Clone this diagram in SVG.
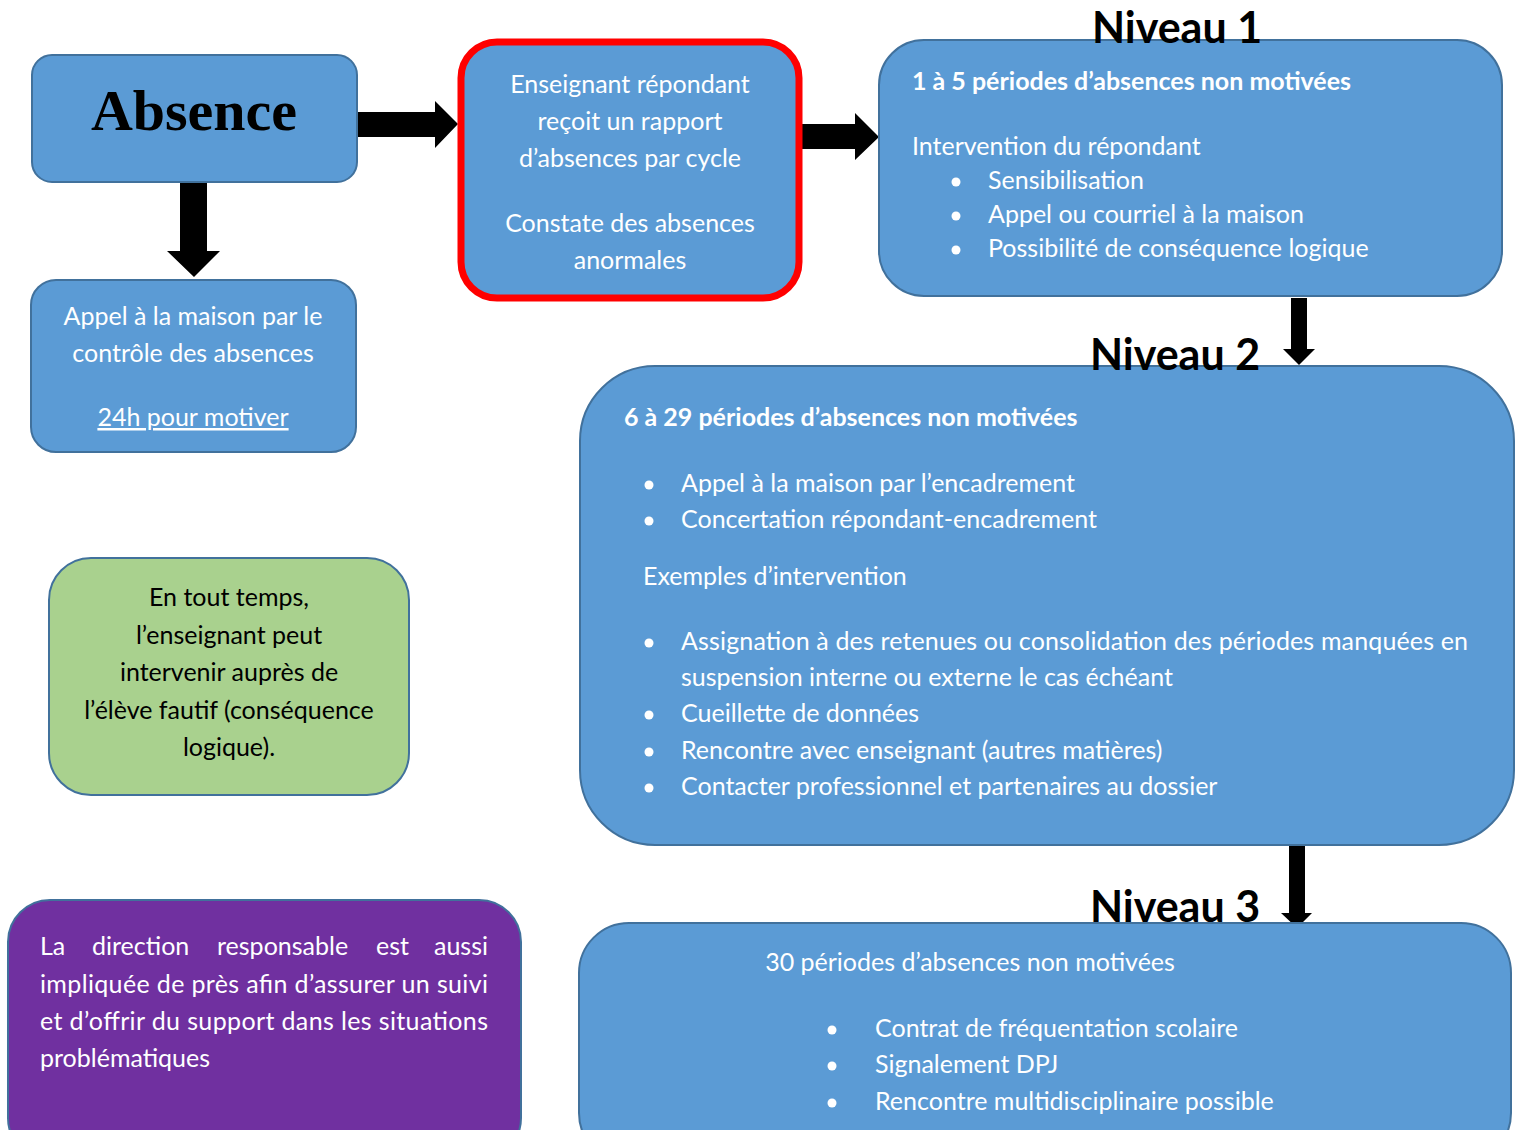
<svg xmlns="http://www.w3.org/2000/svg" width="1522" height="1130" viewBox="0 0 1522 1130">
<style>
.box{fill:#5B9BD5;stroke:#41719C;stroke-width:2}
.t{font-family:Lato,"Open Sans","Liberation Sans",sans-serif;font-size:25px;fill:#fff}
.c{text-anchor:middle}
.b{font-weight:bold}
.k{fill:#000}
.niv{font-family:Lato,"Open Sans","Liberation Sans",sans-serif;font-size:43px;font-weight:bold;fill:#000;text-anchor:middle}
.arr{fill:#000}
.dot{fill:#fff}
</style>
<rect width="1522" height="1130" fill="#fff"/>
<g id="connectors">
<polygon class="arr" points="357,112 435,112 435,101 458,124 435,148 435,137 357,137"/>
<polygon class="arr" points="180,182 207,182 207,251 220,251 194,277 167,251 180,251"/>
<polygon class="arr" points="802,124 855,124 855,113 879,137 855,160 855,149 802,149"/>
<polygon class="arr" points="1291,298 1307,298 1307,349 1315,349 1299,365 1283,349 1291,349"/>
<polygon class="arr" points="1289,845 1305,845 1305,913 1312,913 1297,928 1281,913 1289,913"/>
</g>
<g id="absence">
<rect class="box" x="32" y="55" width="325" height="127" rx="20"/>
<text x="194" y="130" text-anchor="middle" font-family="'Liberation Serif',serif" font-weight="bold" font-size="58" fill="#000">Absence</text>
</g>
<g id="enseignant">
<rect x="461" y="42" width="338" height="256" rx="36" fill="#5B9BD5" stroke="#FF0000" stroke-width="7"/>
<text class="t c" x="630" y="93">Enseignant répondant</text>
<text class="t c" x="630" y="130">reçoit un rapport</text>
<text class="t c" x="630" y="167">d’absences par cycle</text>
<text class="t c" x="630" y="232">Constate des absences</text>
<text class="t c" x="630" y="269">anormales</text>
</g>
<g id="appel">
<rect class="box" x="31" y="280" width="325" height="172" rx="25"/>
<text class="t c" x="193" y="325">Appel à la maison par le</text>
<text class="t c" x="193" y="362">contrôle des absences</text>
<text class="t c" x="193" y="426" text-decoration="underline">24h pour motiver</text>
</g>
<g id="tout-temps">
<rect x="49" y="558" width="360" height="237" rx="42" fill="#A9D18E" stroke="#41719C" stroke-width="2"/>
<text class="t c k" x="229" y="606">En tout temps,</text>
<text class="t c k" x="229" y="644">l’enseignant peut</text>
<text class="t c k" x="229" y="681">intervenir auprès de</text>
<text class="t c k" x="229" y="719">l’élève fautif (conséquence</text>
<text class="t c k" x="229" y="756">logique).</text>
</g>
<g id="direction">
<rect x="8" y="900" width="513" height="260" rx="42" fill="#7030A0" stroke="#41719C" stroke-width="2"/>
<text class="t" y="955"><tspan x="40">La</tspan><tspan x="92">direction</tspan><tspan x="217">responsable</tspan><tspan x="376">est</tspan></text>
<text class="t" x="488" y="955" text-anchor="end">aussi</text>
<text class="t" x="40" y="993" textLength="448" lengthAdjust="spacing">impliquée de près afin d’assurer un suivi</text>
<text class="t" x="40" y="1030" textLength="448" lengthAdjust="spacing">et d’offrir du support dans les situations</text>
<text class="t" x="40" y="1067">problématiques</text>
</g>
<g id="niveau1">
<rect class="box" x="879" y="40" width="623" height="256" rx="45"/>
<text class="niv" x="1177" y="43">Niveau 1</text>
<text class="t b" x="912" y="90">1 à 5 périodes d’absences non motivées</text>
<text class="t" x="912" y="155">Intervention du répondant</text>
<circle class="dot" cx="956" cy="182" r="4.5"/>
<circle class="dot" cx="956" cy="216" r="4.5"/>
<circle class="dot" cx="956" cy="250" r="4.5"/>
<text class="t" x="988" y="189">Sensibilisation</text>
<text class="t" x="988" y="223">Appel ou courriel à la maison</text>
<text class="t" x="988" y="257">Possibilité de conséquence logique</text>
</g>
<g id="niveau2">
<rect class="box" x="580" y="366" width="934" height="479" rx="75"/>
<text class="niv" x="1175" y="370">Niveau 2</text>
<text class="t b" x="624" y="426">6 à 29 périodes d’absences non motivées</text>
<circle class="dot" cx="649" cy="485" r="4.5"/>
<circle class="dot" cx="649" cy="521" r="4.5"/>
<text class="t" x="681" y="492">Appel à la maison par l’encadrement</text>
<text class="t" x="681" y="528">Concertation répondant-encadrement</text>
<text class="t" x="643" y="585">Exemples d’intervention</text>
<circle class="dot" cx="649" cy="643" r="4.5"/>
<circle class="dot" cx="649" cy="715" r="4.5"/>
<circle class="dot" cx="649" cy="752" r="4.5"/>
<circle class="dot" cx="649" cy="788" r="4.5"/>
<text class="t" x="681" y="650" textLength="787" lengthAdjust="spacing">Assignation à des retenues ou consolidation des périodes manquées en</text>
<text class="t" x="681" y="686">suspension interne ou externe le cas échéant</text>
<text class="t" x="681" y="722">Cueillette de données</text>
<text class="t" x="681" y="759">Rencontre avec enseignant (autres matières)</text>
<text class="t" x="681" y="795">Contacter professionnel et partenaires au dossier</text>
</g>
<g id="niveau3">
<rect class="box" x="579" y="923" width="932" height="240" rx="50"/>
<text class="niv" x="1175" y="922">Niveau 3</text>
<text class="t c" x="970" y="971">30 périodes d’absences non motivées</text>
<circle class="dot" cx="832" cy="1030" r="4.5"/>
<circle class="dot" cx="832" cy="1066" r="4.5"/>
<circle class="dot" cx="832" cy="1103" r="4.5"/>
<text class="t" x="875" y="1037">Contrat de fréquentation scolaire</text>
<text class="t" x="875" y="1073">Signalement DPJ</text>
<text class="t" x="875" y="1110">Rencontre multidisciplinaire possible</text>
</g>
</svg>
